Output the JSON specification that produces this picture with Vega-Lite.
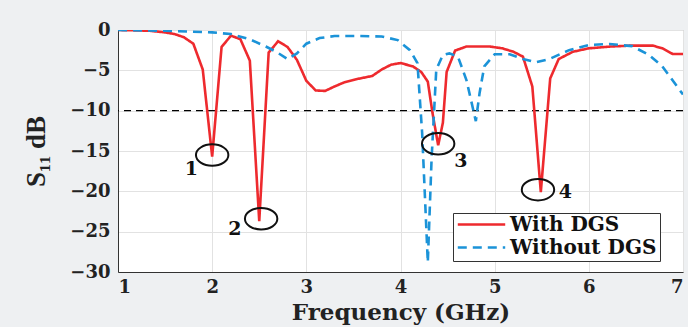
{
  "$schema": "https://vega.github.io/schema/vega-lite/v6.json",
  "width": 565,
  "height": 242,
  "autosize": {"type": "none"},
  "padding": {"left": 118, "top": 30, "right": 5, "bottom": 55},
  "background": "#eef0f2",
  "config": {
    "view": {"fill": "white", "stroke": "#b0b0b0", "strokeWidth": 1},
    "font": "DejaVu Serif"
  },
  "layer": [
    {
      "data": {"values": [{"v": -10}]},
      "mark": {"type": "rule", "color": "black", "strokeWidth": 1.2, "strokeDash": [7, 5]},
      "encoding": {"y": {"field": "v", "type": "quantitative", "scale": {"domain": [-30, 0]}}}
    },
    {
      "data": {"values": [
        {"series": "With DGS", "f": 1.0, "db": 0},
        {"series": "With DGS", "f": 1.2, "db": -0.05},
        {"series": "With DGS", "f": 1.34, "db": -0.1},
        {"series": "With DGS", "f": 1.5, "db": -0.3},
        {"series": "With DGS", "f": 1.6, "db": -0.5},
        {"series": "With DGS", "f": 1.7, "db": -0.9},
        {"series": "With DGS", "f": 1.8, "db": -1.7},
        {"series": "With DGS", "f": 1.9, "db": -4.9},
        {"series": "With DGS", "f": 2.0, "db": -15.7},
        {"series": "With DGS", "f": 2.1, "db": -2.1},
        {"series": "With DGS", "f": 2.2, "db": -0.7},
        {"series": "With DGS", "f": 2.3, "db": -1.15},
        {"series": "With DGS", "f": 2.4, "db": -3.8},
        {"series": "With DGS", "f": 2.5, "db": -23.7},
        {"series": "With DGS", "f": 2.6, "db": -2.8},
        {"series": "With DGS", "f": 2.7, "db": -1.4},
        {"series": "With DGS", "f": 2.8, "db": -2.1},
        {"series": "With DGS", "f": 2.9, "db": -3.7},
        {"series": "With DGS", "f": 3.0, "db": -6.3},
        {"series": "With DGS", "f": 3.1, "db": -7.5},
        {"series": "With DGS", "f": 3.2, "db": -7.55},
        {"series": "With DGS", "f": 3.3, "db": -7.0},
        {"series": "With DGS", "f": 3.4, "db": -6.5},
        {"series": "With DGS", "f": 3.53, "db": -6.1},
        {"series": "With DGS", "f": 3.7, "db": -5.7},
        {"series": "With DGS", "f": 3.8, "db": -4.9},
        {"series": "With DGS", "f": 3.9, "db": -4.3},
        {"series": "With DGS", "f": 4.0, "db": -4.1},
        {"series": "With DGS", "f": 4.13, "db": -4.5},
        {"series": "With DGS", "f": 4.22, "db": -5.2},
        {"series": "With DGS", "f": 4.29, "db": -6.4},
        {"series": "With DGS", "f": 4.34, "db": -10.3},
        {"series": "With DGS", "f": 4.4, "db": -14.3},
        {"series": "With DGS", "f": 4.45, "db": -11.5},
        {"series": "With DGS", "f": 4.49, "db": -5.2},
        {"series": "With DGS", "f": 4.58, "db": -2.55},
        {"series": "With DGS", "f": 4.7, "db": -2.05},
        {"series": "With DGS", "f": 4.95, "db": -2.05},
        {"series": "With DGS", "f": 5.08, "db": -2.27},
        {"series": "With DGS", "f": 5.2, "db": -2.7},
        {"series": "With DGS", "f": 5.3, "db": -3.3},
        {"series": "With DGS", "f": 5.4, "db": -7.0},
        {"series": "With DGS", "f": 5.49, "db": -20.1},
        {"series": "With DGS", "f": 5.59, "db": -6.0},
        {"series": "With DGS", "f": 5.68, "db": -3.6},
        {"series": "With DGS", "f": 5.83, "db": -2.7},
        {"series": "With DGS", "f": 6.0, "db": -2.27},
        {"series": "With DGS", "f": 6.22, "db": -2.06},
        {"series": "With DGS", "f": 6.43, "db": -1.94},
        {"series": "With DGS", "f": 6.68, "db": -1.94},
        {"series": "With DGS", "f": 6.78, "db": -2.27},
        {"series": "With DGS", "f": 6.89, "db": -2.97},
        {"series": "With DGS", "f": 7.0, "db": -2.97},
        {"series": "Without DGS", "f": 1.0, "db": 0},
        {"series": "Without DGS", "f": 1.5, "db": -0.1},
        {"series": "Without DGS", "f": 2.0, "db": -0.3},
        {"series": "Without DGS", "f": 2.2, "db": -0.5},
        {"series": "Without DGS", "f": 2.4, "db": -1.15},
        {"series": "Without DGS", "f": 2.57, "db": -2.05},
        {"series": "Without DGS", "f": 2.68, "db": -2.7},
        {"series": "Without DGS", "f": 2.8, "db": -3.6},
        {"series": "Without DGS", "f": 2.9, "db": -2.9},
        {"series": "Without DGS", "f": 3.0, "db": -1.7},
        {"series": "Without DGS", "f": 3.14, "db": -1.0},
        {"series": "Without DGS", "f": 3.3, "db": -0.75},
        {"series": "Without DGS", "f": 3.57, "db": -0.75},
        {"series": "Without DGS", "f": 3.8, "db": -0.8},
        {"series": "Without DGS", "f": 3.97, "db": -1.25},
        {"series": "Without DGS", "f": 4.1, "db": -2.5},
        {"series": "Without DGS", "f": 4.18, "db": -4.1},
        {"series": "Without DGS", "f": 4.23, "db": -12.8},
        {"series": "Without DGS", "f": 4.29, "db": -28.8},
        {"series": "Without DGS", "f": 4.33, "db": -16.0},
        {"series": "Without DGS", "f": 4.38, "db": -4.9},
        {"series": "Without DGS", "f": 4.45, "db": -3.1},
        {"series": "Without DGS", "f": 4.52, "db": -2.9},
        {"series": "Without DGS", "f": 4.61, "db": -3.3},
        {"series": "Without DGS", "f": 4.7, "db": -6.2},
        {"series": "Without DGS", "f": 4.8, "db": -11.3},
        {"series": "Without DGS", "f": 4.84, "db": -7.8},
        {"series": "Without DGS", "f": 4.89, "db": -4.5},
        {"series": "Without DGS", "f": 5.0, "db": -3.0},
        {"series": "Without DGS", "f": 5.16, "db": -3.0},
        {"series": "Without DGS", "f": 5.3, "db": -3.6},
        {"series": "Without DGS", "f": 5.44, "db": -4.0},
        {"series": "Without DGS", "f": 5.58, "db": -3.6},
        {"series": "Without DGS", "f": 5.79, "db": -2.5},
        {"series": "Without DGS", "f": 6.0, "db": -1.85},
        {"series": "Without DGS", "f": 6.22, "db": -1.73},
        {"series": "Without DGS", "f": 6.46, "db": -2.0},
        {"series": "Without DGS", "f": 6.64, "db": -3.1},
        {"series": "Without DGS", "f": 6.78, "db": -4.5},
        {"series": "Without DGS", "f": 7.0, "db": -8.0}
      ]},
      "mark": {"type": "line", "strokeWidth": 2.6, "clip": true},
      "encoding": {
        "x": {
          "field": "f", "type": "quantitative",
          "scale": {"domain": [1, 7], "nice": false, "zero": false},
          "axis": {
            "title": "Frequency (GHz)", "values": [1, 2, 3, 4, 5, 6, 7], "format": "d",
            "titleFont": "DejaVu Serif", "titleFontSize": 23, "titleFontWeight": "bold", "titleColor": "#222", "titlePadding": 5,
            "labelFont": "DejaVu Serif", "labelFontSize": 18, "labelFontWeight": "bold", "labelColor": "#222", "labelPadding": 6,
            "grid": true, "gridColor": "#e2e2e2", "domainColor": "#333", "tickSize": 0
          }
        },
        "y": {
          "field": "db", "type": "quantitative",
          "scale": {"domain": [-30, 0], "nice": false},
          "axis": {
            "title": "S₁₁ dB", "values": [0, -5, -10, -15, -20, -25, -30],
            "titleFont": "Liberation Serif", "titleFontSize": 27, "titleFontWeight": "bold", "titleColor": "#222", "titlePadding": 19,
            "labelFont": "DejaVu Serif", "labelFontSize": 18, "labelFontWeight": "bold", "labelColor": "#222", "labelPadding": 8,
            "grid": true, "gridColor": "#e2e2e2", "domainColor": "#333", "tickSize": 0
          }
        },
        "color": {
          "field": "series", "type": "nominal",
          "scale": {"domain": ["With DGS", "Without DGS"], "range": ["#ee2a2e", "#1b93d8"]},
          "legend": {
            "title": null, "orient": "none", "legendX": 335, "legendY": 183,
            "symbolType": "stroke", "symbolSize": 2250, "symbolStrokeWidth": 2.6, "clipHeight": 17,
            "labelFont": "DejaVu Serif", "labelFontSize": 20, "labelFontWeight": "bold", "labelColor": "#111",
            "strokeColor": "#333", "fillColor": "white", "padding": 3, "rowPadding": 2, "labelOffset": 3
          }
        },
        "strokeDash": {
          "field": "series", "type": "nominal",
          "scale": {"domain": ["With DGS", "Without DGS"], "range": [[1, 0], [9, 6]]},
          "legend": null
        }
      }
    },
    {
      "data": {"values": [
        {"f": 2.0, "db": -15.5},
        {"f": 2.52, "db": -23.4},
        {"f": 4.4, "db": -14.1},
        {"f": 5.46, "db": -19.8}
      ]},
      "mark": {"type": "point", "shape": "M -1 0 A 1 0.66 0 1 1 1 0 A 1 0.66 0 1 1 -1 0 Z", "size": 1050, "stroke": "#111", "strokeWidth": 2, "filled": false, "opacity": 1},
      "encoding": {
        "x": {"field": "f", "type": "quantitative"},
        "y": {"field": "db", "type": "quantitative"}
      }
    },
    {
      "data": {"values": [
        {"f": 1.78, "db": -17.2, "label": "1"},
        {"f": 2.24, "db": -24.7, "label": "2"},
        {"f": 4.64, "db": -16.2, "label": "3"},
        {"f": 5.75, "db": -20.1, "label": "4"}
      ]},
      "mark": {"type": "text", "font": "DejaVu Serif", "fontSize": 19, "fontWeight": "bold", "color": "#111", "align": "center", "baseline": "middle"},
      "encoding": {
        "x": {"field": "f", "type": "quantitative"},
        "y": {"field": "db", "type": "quantitative"},
        "text": {"field": "label"}
      }
    }
  ]
}
